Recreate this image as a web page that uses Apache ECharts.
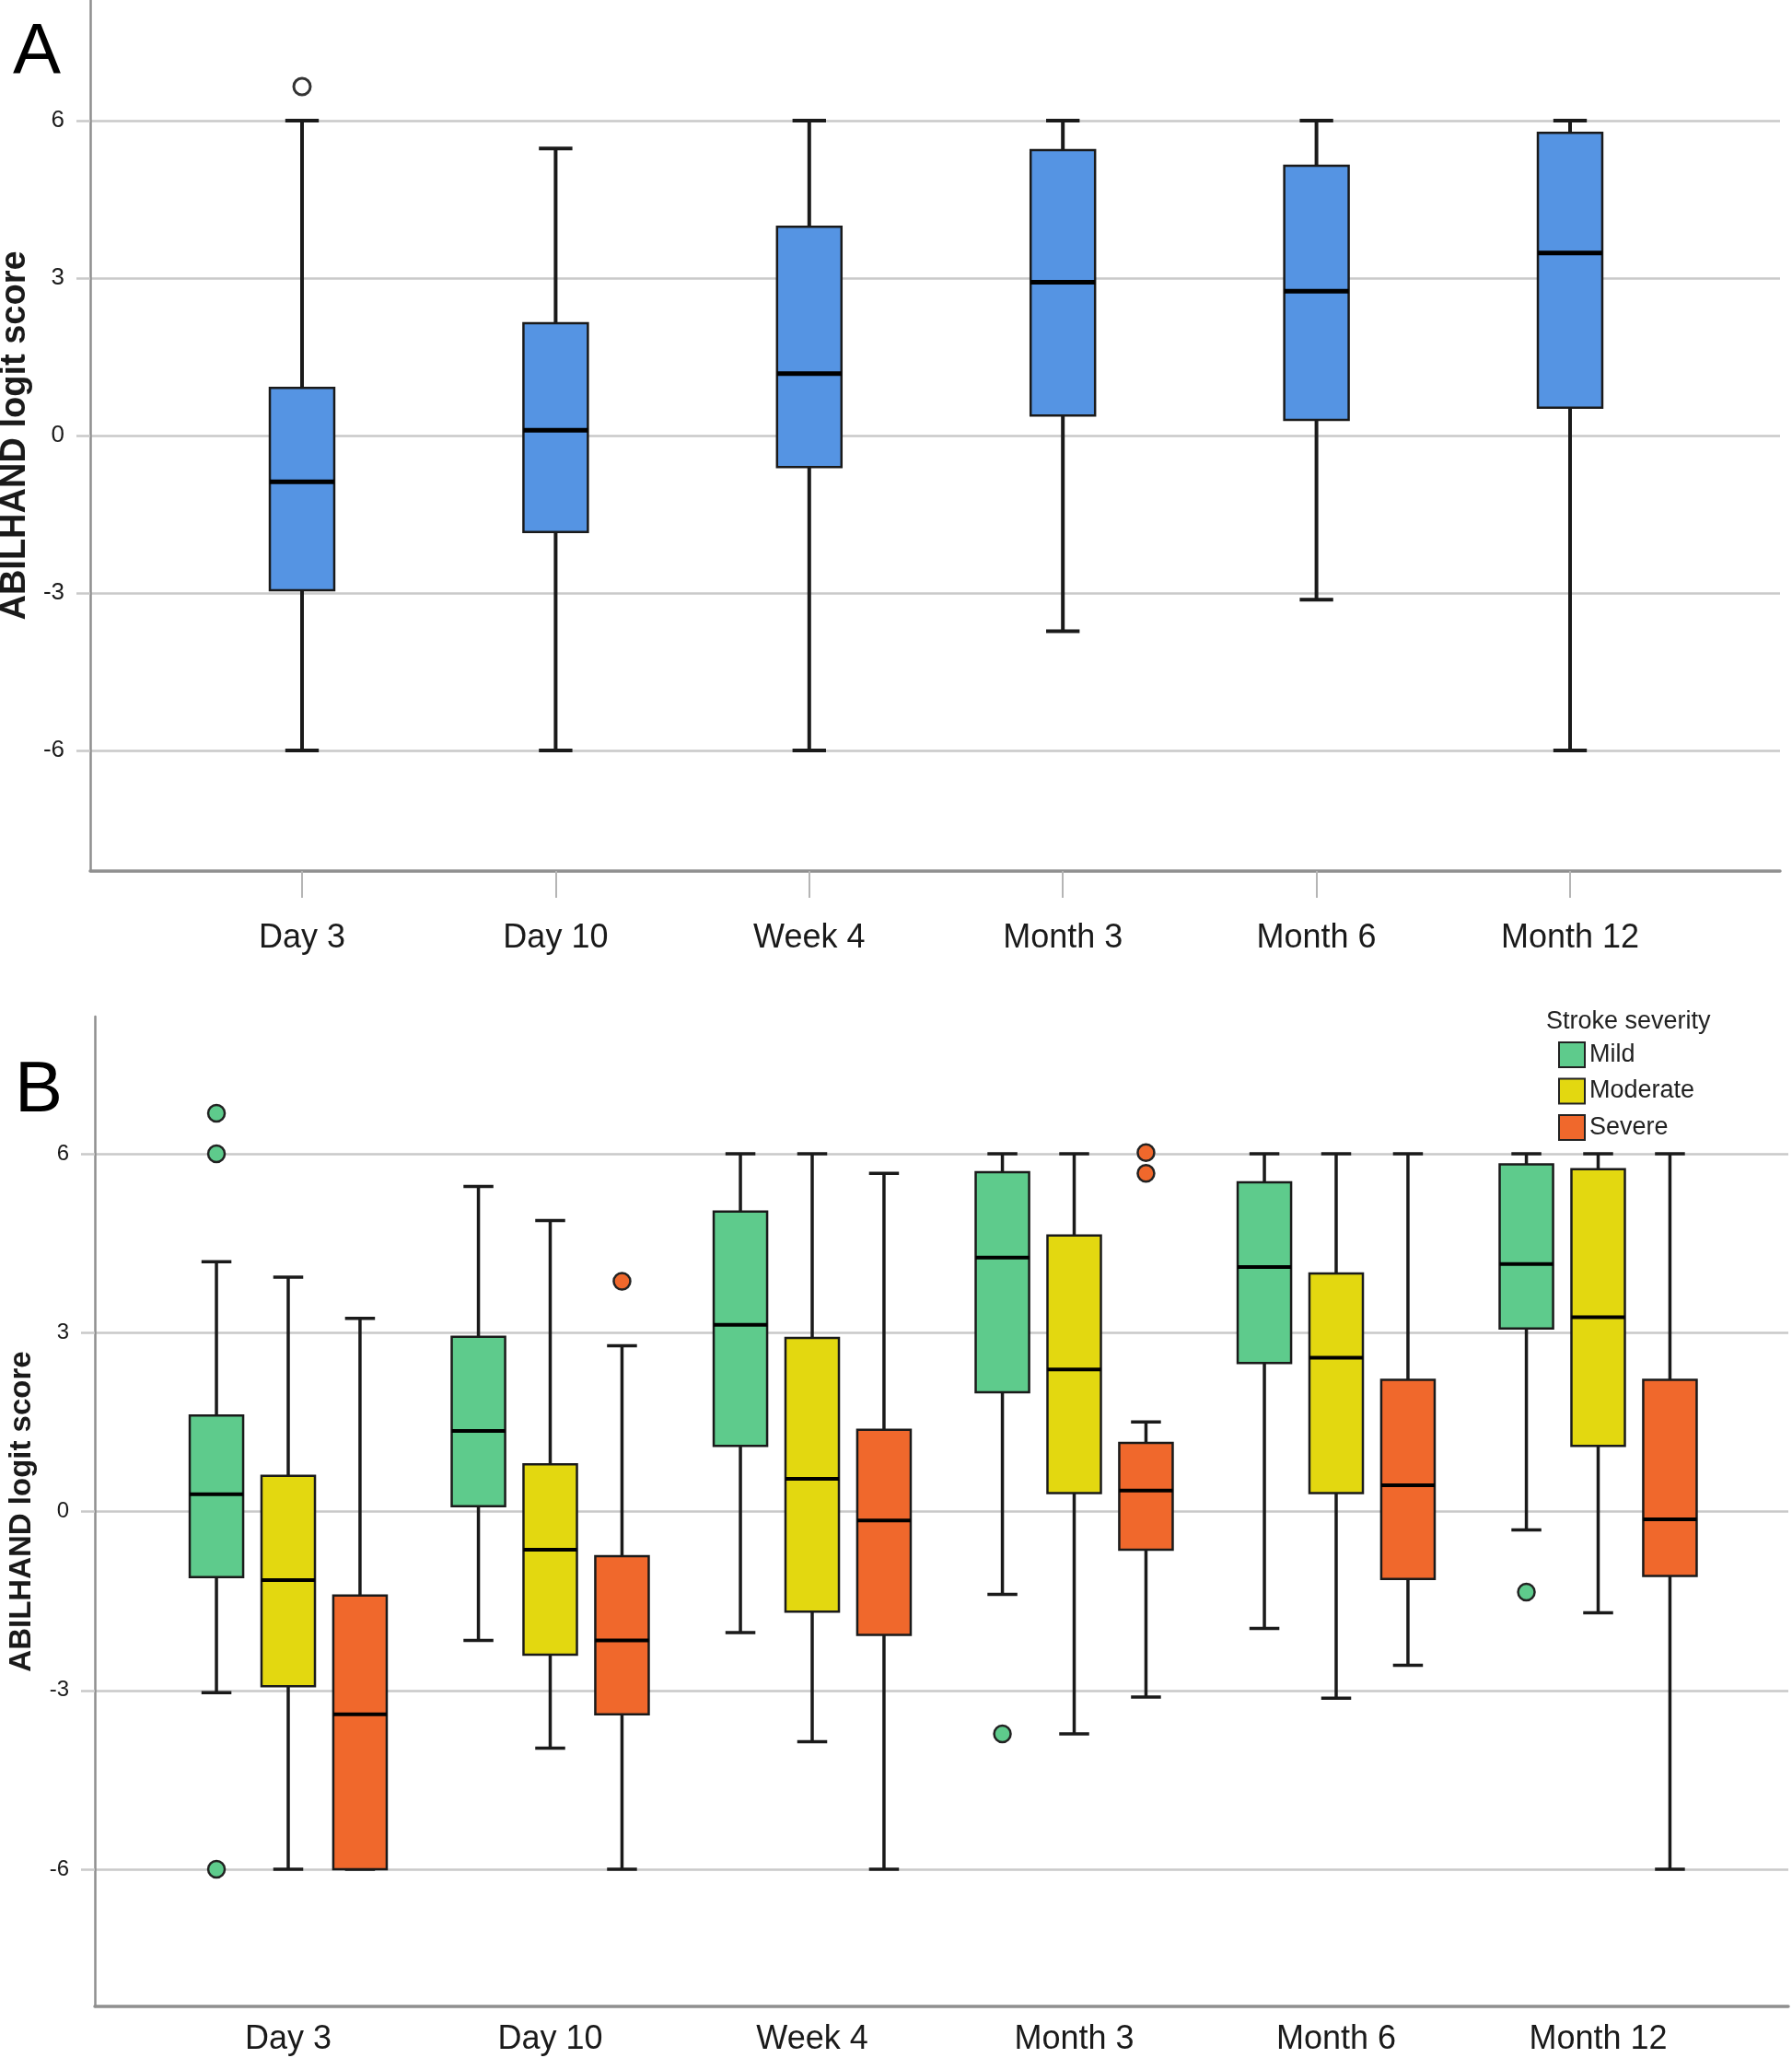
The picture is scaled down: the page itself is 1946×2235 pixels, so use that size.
<!DOCTYPE html>
<html>
<head>
<meta charset="utf-8">
<script src="https://cdn.jsdelivr.net/npm/echarts@6/dist/echarts.min.js"></script>
<style>
  html, body { margin: 0; padding: 0; background: #ffffff; }
  #chart { width: 1946px; height: 2235px; }
</style>
</head>
<body>
<div id="chart"></div>
<script>
// ---------- data ----------
const categories = ['Day 3', 'Day 10', 'Week 4', 'Month 3', 'Month 6', 'Month 12'];
const yTicks = [-6, -3, 0, 3, 6];
const yTitle = 'ABILHAND logit score';
const severityNames = ['Mild', 'Moderate', 'Severe'];
const legendTitle = 'Stroke severity';

// [min, Q1, median, Q3, max]
const overallBox = [
  [-6.0, -2.95, -0.88, 0.91, 6.0],
  [-6.0, -1.84, 0.10, 2.14, 5.47],
  [-6.0, -0.60, 1.18, 3.98, 6.0],
  [-3.73, 0.38, 2.92, 5.44, 6.0],
  [-3.13, 0.30, 2.75, 5.14, 6.0],
  [-6.0, 0.53, 3.48, 5.77, 6.0]
];
// [category index, value]
const overallOutliers = [[0, 6.65]];

const mildBox = [
  [-3.04, -1.10, 0.29, 1.61, 4.19],
  [-2.16, 0.09, 1.35, 2.93, 5.45],
  [-2.03, 1.10, 3.13, 5.03, 6.0],
  [-1.39, 2.00, 4.26, 5.69, 6.0],
  [-1.96, 2.49, 4.10, 5.52, 6.0],
  [-0.31, 3.07, 4.15, 5.82, 6.0]
];
const moderateBox = [
  [-6.0, -2.93, -1.15, 0.60, 3.93],
  [-3.97, -2.40, -0.64, 0.79, 4.88],
  [-3.86, -1.68, 0.55, 2.91, 6.0],
  [-3.73, 0.31, 2.38, 4.63, 6.0],
  [-3.13, 0.31, 2.58, 3.99, 6.0],
  [-1.70, 1.10, 3.26, 5.74, 6.0]
];
const severeBox = [
  [-6.0, -6.0, -3.40, -1.41, 3.24],
  [-6.0, -3.40, -2.16, -0.75, 2.78],
  [-6.0, -2.07, -0.15, 1.37, 5.67],
  [-3.11, -0.64, 0.35, 1.15, 1.50],
  [-2.58, -1.13, 0.44, 2.21, 6.0],
  [-6.0, -1.08, -0.13, 2.21, 6.0]
];
const mildOutliers = [[0, 6.68], [0, 6.0], [0, -6.0], [3, -3.73], [5, -1.35]];
const moderateOutliers = [];
const severeOutliers = [[1, 3.86], [3, 6.02], [3, 5.67]];

// ---------- styling ----------
const SANS = "'Liberation Sans', Arial, sans-serif";
const GRID_C = '#c9c9c9';
const AXIS_C = '#8f8f8f';
const INK = '#1a1a1a';
const colors = { overall: '#5594E3', Mild: '#5ECB8C', Moderate: '#E3D810', Severe: '#F0682C' };

const Y_MIN = -8.3, Y_MAX = 8.3;

function boxRenderer(opt) {
  return function (params, api) {
    const i = api.value(0);
    const band = api.size([1, 0])[0];
    const cx = api.coord([i, 0])[0] + opt.offset * band;
    const w = band * opt.width;
    const cap = w * opt.cap;
    const y = v => api.coord([i, v])[1];
    const yMin = y(api.value(1)), yQ1 = y(api.value(2)), yMed = y(api.value(3)),
          yQ3 = y(api.value(4)), yMax = y(api.value(5));
    const ls = { stroke: INK, lineWidth: opt.whisker };
    return {
      type: 'group',
      children: [
        { type: 'line', shape: { x1: cx, y1: yQ3, x2: cx, y2: yMax }, style: ls },
        { type: 'line', shape: { x1: cx, y1: yQ1, x2: cx, y2: yMin }, style: ls },
        { type: 'line', shape: { x1: cx - cap / 2, y1: yMax, x2: cx + cap / 2, y2: yMax }, style: ls },
        { type: 'line', shape: { x1: cx - cap / 2, y1: yMin, x2: cx + cap / 2, y2: yMin }, style: ls },
        { type: 'rect', shape: { x: cx - w / 2, y: yQ3, width: w, height: yQ1 - yQ3 },
          style: { fill: opt.color, stroke: INK, lineWidth: opt.border } },
        { type: 'line', shape: { x1: cx - w / 2, y1: yMed, x2: cx + w / 2, y2: yMed },
          style: { stroke: '#000', lineWidth: opt.median } }
      ]
    };
  };
}
function outlierRenderer(opt) {
  return function (params, api) {
    const i = api.value(0);
    const band = api.size([1, 0])[0];
    const p = api.coord([i, api.value(1)]);
    return {
      type: 'circle',
      shape: { cx: p[0] + opt.offset * band, cy: p[1], r: opt.r },
      style: { fill: opt.fill, stroke: opt.stroke, lineWidth: opt.lw }
    };
  };
}
const withIndex = arr => arr.map((d, i) => [i].concat(d));

function frameY(gridIndex, labelSize, titleSize, nameGap, margin) {
  return {
    type: 'value', gridIndex: gridIndex, min: Y_MIN, max: Y_MAX,
    name: yTitle, nameLocation: 'middle', nameRotate: 90, nameGap: nameGap,
    nameTextStyle: { fontFamily: SANS, fontWeight: 'bold', fontSize: titleSize, color: INK },
    axisLine: { show: true, onZero: false, lineStyle: { color: AXIS_C, width: 2.5 } },
    axisTick: { show: true, customValues: yTicks, length: 15, lineStyle: { color: GRID_C, width: 2.5 } },
    axisLabel: { customValues: yTicks, fontFamily: SANS, fontSize: labelSize, color: INK, margin: margin },
    splitLine: { show: true, lineStyle: { color: GRID_C, width: 2.5 } }
  };
}
function hiddenY(gridIndex) {
  return { type: 'value', gridIndex: gridIndex, min: Y_MIN, max: Y_MAX, show: false, splitLine: { show: false } };
}
function frameX(gridIndex) {
  return {
    type: 'value', gridIndex: gridIndex, min: 0, max: 1,
    axisLine: { show: true, onZero: false, lineStyle: { color: AXIS_C, width: 3.5 } },
    axisTick: { show: false }, axisLabel: { show: false }, splitLine: { show: false }
  };
}
const gridBase = { containLabel: false, outerBoundsMode: 'none' };

const chart = echarts.init(document.getElementById('chart'), null, { renderer: 'canvas' });

const option = {
  backgroundColor: '#ffffff',
  animation: false,
  title: [
    { text: 'A', left: 9, top: 14, textStyle: { fontFamily: SANS, fontWeight: 'normal', fontSize: 78, color: '#000' } },
    { text: 'B', left: 11, top: 1141, textStyle: { fontFamily: SANS, fontWeight: 'normal', fontSize: 78, color: '#000' } },
    { text: legendTitle, left: 1674, top: 1091, textStyle: { fontFamily: SANS, fontWeight: 'normal', fontSize: 27, color: '#222' } }
  ],
  legend: {
    data: severityNames,
    orient: 'vertical', left: 1692, top: 1131, padding: 0,
    itemWidth: 28, itemHeight: 27, itemGap: 10.5, icon: 'rect',
    itemStyle: { borderColor: '#222', borderWidth: 2 },
    textStyle: { fontFamily: SANS, fontSize: 27, color: '#222' }
  },
  grid: [
    Object.assign({ left: 98, top: 0, width: 1835, height: 946 }, gridBase),        // A frame
    Object.assign({ left: 190.3, top: 0, width: 1652.4, height: 946 }, gridBase),   // A data
    Object.assign({ left: 103, top: 1104, width: 1839, height: 1075 }, gridBase),   // B frame
    Object.assign({ left: 170.75, top: 1104, width: 1707, height: 1075 }, gridBase) // B data
  ],
  xAxis: [
    frameX(0),
    {
      type: 'category', gridIndex: 1, data: categories,
      axisLine: { show: false, onZero: false },
      axisTick: { show: true, alignWithLabel: true, length: 29, lineStyle: { color: '#b5b5b5', width: 2 } },
      axisLabel: { fontFamily: SANS, fontSize: 36, color: INK, margin: 55 },
      splitLine: { show: false }
    },
    frameX(2),
    {
      type: 'category', gridIndex: 3, data: categories,
      axisLine: { show: false, onZero: false }, axisTick: { show: false },
      axisLabel: { fontFamily: SANS, fontSize: 36, color: INK, margin: 18 },
      splitLine: { show: false }
    }
  ],
  yAxis: [
    frameY(0, 26, 38, 59, 28),
    hiddenY(1),
    frameY(2, 24, 33, 63, 28),
    hiddenY(3)
  ],
  series: [
    {
      type: 'custom', name: 'All', xAxisIndex: 1, yAxisIndex: 1,
      data: withIndex(overallBox), encode: { x: 0, y: [1, 2, 3, 4, 5] },
      itemStyle: { color: colors.overall },
      renderItem: boxRenderer({ offset: 0, width: 0.254, cap: 0.52, color: colors.overall, whisker: 4, border: 2.5, median: 5 })
    },
    {
      type: 'custom', name: 'All outliers', xAxisIndex: 1, yAxisIndex: 1,
      data: overallOutliers, encode: { x: 0, y: 1 },
      renderItem: outlierRenderer({ offset: 0, r: 9, fill: '#ffffff', stroke: '#333', lw: 3 })
    }
  ].concat(severityNames.map((name, k) => ({
      type: 'custom', name: name, xAxisIndex: 3, yAxisIndex: 3,
      data: withIndex([mildBox, moderateBox, severeBox][k]), encode: { x: 0, y: [1, 2, 3, 4, 5] },
      itemStyle: { color: colors[name] },
      renderItem: boxRenderer({ offset: (k - 1) * 0.274, width: 0.204, cap: 0.56, color: colors[name], whisker: 3.5, border: 2.5, median: 4 })
    }))).concat(severityNames.map((name, k) => ({
      type: 'custom', name: name, xAxisIndex: 3, yAxisIndex: 3,
      data: [mildOutliers, moderateOutliers, severeOutliers][k], encode: { x: 0, y: 1 },
      itemStyle: { color: colors[name] },
      renderItem: outlierRenderer({ offset: (k - 1) * 0.274, r: 9, fill: colors[name], stroke: '#222', lw: 2.5 })
    })))
};
chart.setOption(option);
</script>
</body>
</html>
